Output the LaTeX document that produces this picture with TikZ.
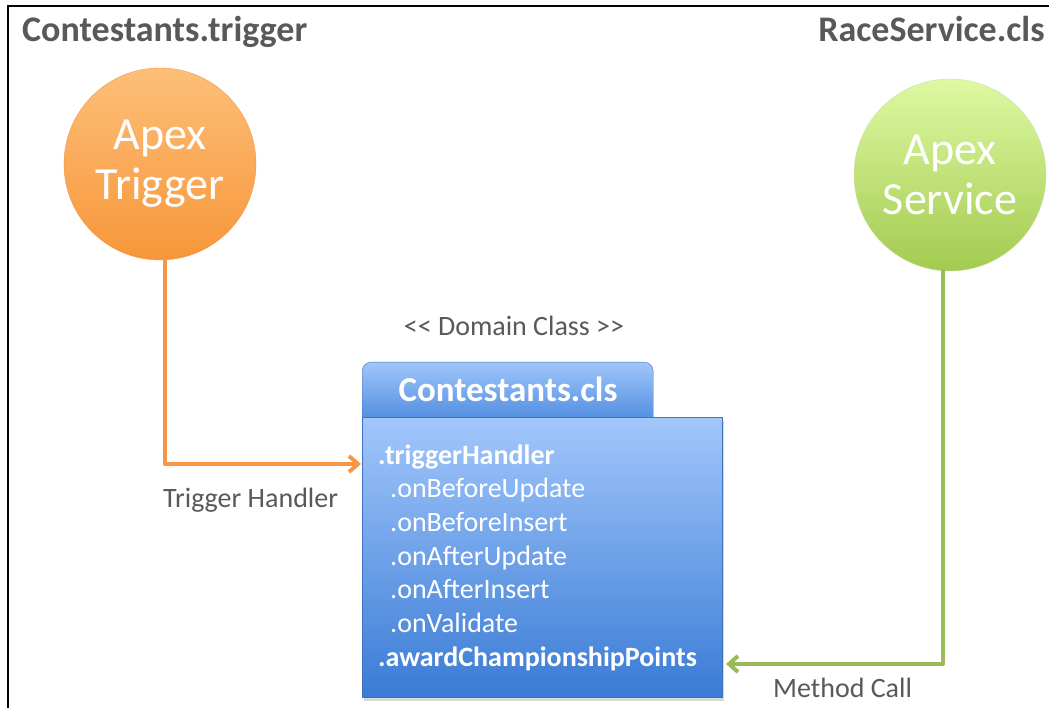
\documentclass[tikz,border=0pt]{standalone}
\usepackage{fontspec}
\setmainfont{Carlito}
\usetikzlibrary{arrows.meta,shadows}

\definecolor{txtgray}{HTML}{595959}
\definecolor{trigorange}{HTML}{F79646}
\definecolor{trigtop}{HTML}{FDBF78}
\definecolor{trigbot}{HTML}{F7963A}
\definecolor{svcgreen}{HTML}{9BBB59}
\definecolor{svctop}{HTML}{DEF9A2}
\definecolor{svcbot}{HTML}{A3CB50}
\definecolor{boxblue}{HTML}{3F72BC}
\definecolor{boxtop}{HTML}{A2C7FC}
\definecolor{boxbot}{HTML}{3A7BD5}
\definecolor{tabtop}{HTML}{A0C6FA}
\definecolor{tabbot}{HTML}{4A88DE}

\begin{document}
\begin{tikzpicture}[x=1pt, y=-1pt,
    bubble/.style={circle, minimum size=192pt, inner sep=0pt, text=white,
      align=center, font=\fontsize{46}{50}\selectfont},
    heading/.style={text=txtgray, font=\fontsize{36}{40}\selectfont\bfseries},
    caption/.style={text=txtgray, font=\fontsize{28}{32}\selectfont},
    member/.style={text=white, anchor=base west, inner sep=0pt,
      font=\fontsize{28}{32}\selectfont},
    link/.style={line width=4pt, line cap=round, line join=round,
      -{Straight Barb[length=9pt, width=16pt, line width=4pt]}}]
  \useasboundingbox (0,0) rectangle (1049,708);
  \fill[white] (0,0) rectangle (1049,708);

  % Frame, cut off on the right and at the bottom
  \draw[line width=2.5pt] (8,708) -- (8,6) -- (1049,6);

  % File names
  \node[heading, anchor=base west, inner sep=0pt] (trigfile) at (22,42) {Contestants.trigger};
  \node[heading, anchor=base east, inner sep=0pt] (svcfile) at (1045,42) {RaceService.cls};

  % Callers
  \node[bubble, draw=trigorange, top color=trigtop, bottom color=trigbot] (trig) at (160,164) {Apex\\Trigger};
  \node[bubble, draw=svcgreen!50!white, top color=svctop, bottom color=svcbot] (svc) at (950,175) {Apex\\Service};

  % Domain class box
  \node[caption, anchor=base] (stereo) at (514,336) {<{}< Domain Class >{}>};
  \node[draw=boxblue, rounded corners=9pt, minimum width=291pt, minimum height=63pt,
    anchor=north west, top color=tabtop, bottom color=tabbot] (tab) at (362,362) {};
  \node[draw=boxblue, minimum width=360pt, minimum height=280pt, anchor=north west,
    top color=boxtop, bottom color=boxbot,
    drop shadow={opacity=.3, shadow xshift=2pt, shadow yshift=-4pt}] (domain) at (362,417) {};
  \node[member, anchor=base, font=\fontsize{35}{40}\selectfont\bfseries] (tabname) at (508,401) {Contestants.cls};

  \node[member, font=\fontsize{28}{32}\selectfont\bfseries] (hdl) at (378,464) {.triggerHandler};
  \foreach \m [count=\i] in {onBeforeUpdate, onBeforeInsert, onAfterUpdate, onAfterInsert, onValidate}
    \node[member] (ev\i) at (390,464+33.7*\i) {.\m};
  \node[member, font=\fontsize{28}{32}\selectfont\bfseries] (award) at (378,666) {.awardChampionshipPoints};

  % Connectors
  \coordinate (hdlin) at (361,464);
  \coordinate (callin) at (726,664);
  \draw[link, trigorange] ([xshift=5pt]trig.south) |- (hdlin);
  \draw[link, svcgreen] ([xshift=-7pt]svc.south) |- (callin);
  \node[caption, anchor=base west, inner sep=0pt] (hdllbl) at (163,507) {Trigger Handler};
  \node[caption, anchor=base west, inner sep=0pt] (calllbl) at (773,697) {Method Call};
\end{tikzpicture}
\end{document}
